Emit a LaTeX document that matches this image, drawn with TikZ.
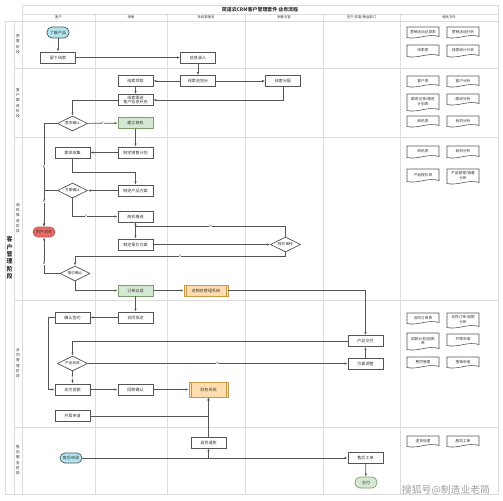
\documentclass[tikz,border=0pt]{standalone}
\usepackage{fontspec}
\setmainfont{Noto Sans CJK SC}
\usetikzlibrary{arrows.meta,shapes.geometric}
\definecolor{lanegray}{HTML}{DCDCDC}
\definecolor{linegray}{HTML}{555555}
\definecolor{txtgray}{HTML}{333333}
\definecolor{cyanfill}{HTML}{B2E6F0}
\definecolor{greenfill}{HTML}{D5E8D4}
\definecolor{greenline}{HTML}{7E9E6C}
\definecolor{redfill}{HTML}{EA6B66}
\definecolor{redline}{HTML}{B85450}
\definecolor{orangefill}{HTML}{FFDDAE}
\definecolor{orangeline}{HTML}{C9994A}
\tikzset{
  lane/.style={draw=lanegray,line width=1.4pt},
  box/.style={draw=linegray,line width=2pt,fill=white,minimum width=3.5cm,minimum height=1.1cm,inner sep=1pt,font=\fontsize{11.5}{13.5}\selectfont,text=txtgray,align=center},
  startbox/.style={box,rounded corners=0.5cm,minimum width=2.2cm,fill=cyanfill},
  endbox/.style={box,rounded corners=0.5cm,minimum width=2.2cm,fill=greenfill,draw=greenline},
  lostbox/.style={box,rounded corners=0.5cm,minimum width=2.2cm,minimum height=1cm,fill=redfill,draw=redline},
  okbox/.style={box,fill=greenfill,draw=greenline},
  sysbox/.style={box,fill=orangefill,draw=orangeline},
  decide/.style={diamond,aspect=2,draw=linegray,line width=2pt,fill=white,minimum width=3cm,minimum height=1.5cm,inner sep=0pt,font=\fontsize{10.5}{12}\selectfont,text=txtgray},
  lbl/.style={fill=white,inner sep=0.6pt,font=\fontsize{9.5}{9.5}\selectfont,text=txtgray},
  arr/.style={draw=linegray,line width=2pt,-{Latex[length=3mm,width=2.3mm]}},
  head/.style={font=\fontsize{9.5}{11}\selectfont,text=txtgray},
  phase/.style={font=\fontsize{10.5}{15}\selectfont,text=txtgray,align=center},
  docline/.style={draw=linegray,line width=1.7pt,fill=white},
  doctext/.style={font=\fontsize{10.5}{12}\selectfont,text=txtgray,align=center,inner sep=0pt}
}
\newcommand{\docnode}[5]{%
  \begin{scope}[shift={(#2,#3)}]
    \draw[docline] (-16,{-#4/2}) -- (16,{-#4/2}) -- (16,{#4/2-1.5}) .. controls (5,{#4/2-5}) and (-5,{#4/2+2}) .. (-16,{#4/2-0.5}) -- cycle;
    \node[doctext] (#1) at (0,-0.8) {#5};
  \end{scope}}

\begin{document}
\begin{tikzpicture}[x=0.1cm,y=-0.1cm]
  \useasboundingbox[fill=white] (0,0) rectangle (503,500);
  \draw[lane] (22,5) rectangle (498,21);
  \draw[lane] (22,14.3) -- (498,14.3);
  \draw[lane] (5,21) rectangle (498,494);
  \foreach \x in {14,22} \draw[lane] (\x,21) -- (\x,494);
  \foreach \x in {95,167,245,323,400} \draw[lane] (\x,14.3) -- (\x,494);
  \foreach \y in {68,137,300,427} \draw[lane] (14,\y) -- (498,\y);

  \node[font=\fontsize{14}{16}\selectfont\bfseries,text=txtgray] (title) at (260,9.7) {简道云CRM客户管理套件\ 业务流程};
  \foreach \x/\t [count=\i] in {58.5/客户,131/销售,206/系统管理员,284/销售主管,361.5/{生产/实施/售后部门},449/相关文件}
    \node[head] (head\i) at (\x,17.6) {\t};
  \node[font=\fontsize{17}{21}\selectfont\bfseries,text=txtgray,align=center] (stage) at (9.5,258) {客\\户\\管\\理\\阶\\段};
  \node[phase] (p1) at (18,44) {获\\客\\阶\\段};
  \node[phase] (p2) at (18,103) {客\\户\\跟\\进\\阶\\段};
  \node[phase] (p3) at (18,218) {商\\机\\推\\进\\阶\\段};
  \node[phase] (p4) at (18,363) {合\\同\\管\\理\\阶\\段};
  \node[phase] (p5) at (18,460) {售\\后\\服\\务\\阶\\段};

  \node[startbox] (learn) at (58,32.5) {了解产品};
  \node[box] (leave) at (58,57.5) {留下线索};
  \node[box] (entry) at (198,57.5) {信息录入};
  \node[box] (pool) at (198,81) {线索池划分};
  \node[box] (claim) at (135.5,81) {线索领取};
  \node[box] (assign) at (283,81) {线索分配};
  \node[box] (follow) at (135.5,100) {线索跟进\\客户信息补充};
  \node[decide] (needok) at (72.5,123.5) {需求确认};
  \node[okbox] (oppo) at (135.5,123) {建立商机};
  \node[box] (plan) at (135.5,152.5) {制定销售计划};
  \node[box] (collect) at (72.5,152.5) {需求收集};
  \node[box] (scheme) at (135.5,190.5) {制定产品方案};
  \node[decide] (schemeok) at (72.5,190.5) {方案确认};
  \node[box] (push) at (135.5,216.5) {商机推进};
  \node[lostbox] (lost) at (44,232) {用户流失};
  \node[box] (quote) at (135.5,244.5) {制定报价方案};
  \node[decide] (audit) at (285.5,244.5) {报价审核};
  \node[decide] (quoteok) at (75,273.5) {报价确认};
  \node[okbox] (order) at (135.5,290.5) {订单达成};
  \node[sysbox,minimum width=4.4cm] (erp) at (206,290.5) {进销存管理系统};
  \node[box] (sign) at (72.5,317.5) {确认签约};
  \node[box] (contract) at (135.5,317.5) {合同拟定};
  \node[box] (deliver) at (365.5,341) {产品交付};
  \node[decide] (check) at (72.5,363.5) {产品验收};
  \node[box] (adjust) at (365.5,363.5) {方案调整};
  \node[box] (pay) at (72.5,389.5) {支付金额};
  \node[box] (receipt) at (135.5,389.5) {回款确认};
  \node[sysbox,minimum width=3.9cm,minimum height=1.5cm] (finance) at (208.5,389.5) {财务系统};
  \node[box] (invoice) at (72.5,416) {开票申请};
  \node[box] (refund) at (208.5,442.5) {退货退款};
  \node[startbox,minimum height=1cm] (service) at (71,458) {售后申请};
  \node[box] (ticket) at (365.5,458) {售后工单};
  \node[endbox] (done) at (366,482.5) {交付};
  \foreach \n in {erp,finance}
    \draw[draw=orangeline,line width=2pt] ([xshift=0.25cm]\n.north west) -- ([xshift=0.25cm]\n.south west) ([xshift=-0.25cm]\n.north east) -- ([xshift=-0.25cm]\n.south east);

  \draw[arr] (learn) -- (leave);
  \draw[arr] (leave) -- (entry);
  \draw[arr] (entry) -- (pool);
  \draw[arr] (pool) -- (claim);
  \draw[arr] (pool) -- (assign);
  \draw[arr] (claim) -- (follow);
  \draw[arr] (assign.south) |- (follow.east);
  \draw[arr] (follow.west) -| (needok.north);
  \draw[arr] (needok) -- node[lbl]{Y} (oppo);
  \draw[arr] (needok.west) -| node[lbl,pos=0.71]{N} (lost.north);
  \draw[arr] (oppo) -- (plan);
  \draw[arr] (plan) -- (collect);
  \draw[arr] (collect.south) -- ++(0,14) -| (scheme.north);
  \draw[arr] (scheme) -- (schemeok);
  \draw[arr] (schemeok.west) -| node[lbl,pos=0.65]{N} (lost.north);
  \draw[arr] (schemeok.south) |- node[lbl,pos=0.65]{Y} (push.west);
  \draw[arr] (push) -- (quote);
  \draw[arr] (audit.north) -- ++(0,-10.5) -| node[lbl,pos=0.25]{N} (push.south);
  \draw[arr] (quote) -- (audit);
  \draw[arr] (audit.south) -- ++(0,4) -| node[lbl,pos=0.25]{Y} (quoteok.north);
  \draw[arr] (quoteok.west) -| node[lbl,pos=0.64]{N} (lost.south);
  \draw[arr] (quoteok.south) |- (order.west);
  \draw[arr] (order) -- (erp);
  \draw[arr] (erp.east) -| (deliver.north);
  \draw[arr] (order) -- (contract);
  \draw[arr] (contract) -- (sign);
  \draw[arr] (sign.west) -- ++(-6,0) |- (pay.west);
  \draw[arr] (deliver.west) -| (check.north);
  \draw[arr] (check) -- node[lbl]{N} (adjust);
  \draw[arr] (adjust) -- (deliver);
  \draw[arr] (check) -- node[lbl]{Y} (pay);
  \draw[arr] (pay) -- (receipt);
  \draw[arr] (receipt) -- (finance);
  \draw[arr] (invoice.east) -| (finance.south);
  \draw[arr] (refund) -- (finance);
  \draw[arr] (service) -- (ticket);
  \draw[arr] (service.east) -| (refund.south);
  \draw[arr] (ticket) -- (done);

  \docnode{d1}{423}{32.5}{11}{营销活动记录表}
  \docnode{d2}{463}{32.5}{11}{营销活动分析}
  \docnode{d3}{423}{51}{12}{线索表}
  \docnode{d4}{463}{51}{12}{线索统计分析}
  \docnode{d5}{423}{81.5}{11}{客户表}
  \docnode{d6}{463}{81.5}{11}{客户分析}
  \docnode{d7}{423}{102.5}{17}{跟进记录/跟进\\计划表}
  \docnode{d8}{463}{99.5}{11}{跟进分析}
  \docnode{d9}{423}{121.5}{11}{商机表}
  \docnode{d10}{463}{121.5}{11}{商机分析}
  \docnode{d11}{423}{152}{12}{商机表}
  \docnode{d12}{463}{152}{12}{商机分析}
  \docnode{d13}{423}{175.5}{13}{产品报价表}
  \docnode{d14}{463}{176.5}{15}{产品管理/销量\\分析}
  \docnode{d15}{423}{318.5}{11}{合同订单表}
  \docnode{d16}{463}{320.5}{15}{合同订单-回款\\分析}
  \docnode{d17}{423}{341.5}{17}{回款计划/回款\\单}
  \docnode{d18}{463}{340}{12}{开票申请}
  \docnode{d19}{423}{362.5}{11}{费控管理}
  \docnode{d20}{463}{362.5}{11}{报销申请}
  \docnode{d21}{423}{441.5}{11}{退货处理}
  \docnode{d22}{463}{441.5}{11}{服务工单}

  \node[text=gray!75,font=\fontsize{28}{30}\selectfont] (mark) at (446,490) {搜狐号@制造业老简};
\end{tikzpicture}
\end{document}
